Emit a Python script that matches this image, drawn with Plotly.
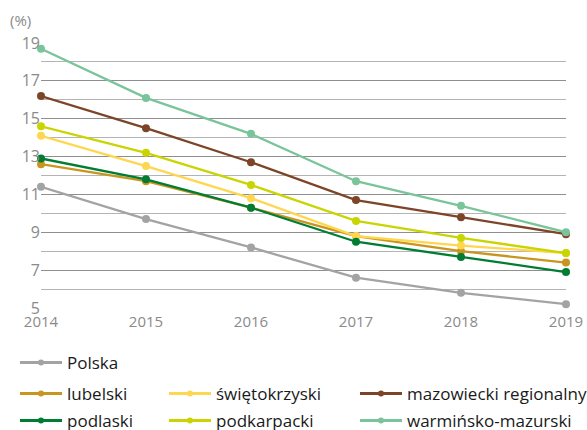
import plotly.graph_objects as go

years = [2014, 2015, 2016, 2017, 2018, 2019]
polska = [11.4, 9.7, 8.2, 6.6, 5.8, 5.2]
lubelski = [12.6, 11.7, 10.3, 8.8, 8.0, 7.4]
swietokrzyski = [14.1, 12.5, 10.8, 8.8, 8.3, 7.9]
mazowiecki = [16.2, 14.5, 12.7, 10.7, 9.8, 8.9]
podlaski = [12.9, 11.8, 10.3, 8.5, 7.7, 6.9]
podkarpacki = [14.6, 13.2, 11.5, 9.6, 8.7, 7.9]
warminsko = [18.7, 16.1, 14.2, 11.7, 10.4, 9.0]

series = [
    ("Polska", polska, "#a3a3a3"),
    ("lubelski", lubelski, "#c8961e"),
    ("świętokrzyski", swietokrzyski, "#ffd64f"),
    ("mazowiecki regionalny", mazowiecki, "#7d4527"),
    ("podlaski", podlaski, "#007d32"),
    ("podkarpacki", podkarpacki, "#c9d500"),
    ("warmińsko-mazurski", warminsko, "#7ac49b"),
]

W, H = 587, 430
L, R, T, B = 41, 21, 43, 122
PW, PH = W - L - R, H - T - B

# legend positions in pixels (x left, y top)
legend_pos = [
    (15, 345),
    (15, 376), (164, 376), (355, 376),
    (15, 403), (164, 403), (355, 403),
]

fig = go.Figure()
legend_layout = {}
draw_order = [0, 1, 2, 5, 4, 3, 6]
for i in draw_order:
    name, vals, col = series[i]
    fig.add_trace(go.Scatter(
        x=years, y=vals, name=name, mode="lines+markers",
        line=dict(color=col, width=2.3),
        marker=dict(color=col, size=8),
        cliponaxis=False, showlegend=False,
    ))
for i, (name, vals, col) in enumerate(series):
    lname = "legend" if i == 0 else f"legend{i+1}"
    # legend-only entry (no data drawn)
    fig.add_trace(go.Scatter(
        x=[None], y=[None], name=name, mode="lines+markers",
        line=dict(color=col, width=3),
        marker=dict(color=col, size=6),
        legend=lname, showlegend=True, hoverinfo="skip",
    ))
    px, py = legend_pos[i]
    legend_layout[lname] = dict(
        x=(px - L) / PW, y=(H - B - py) / PH,
        xanchor="left", yanchor="top",
        bgcolor="rgba(0,0,0,0)",
        font=dict(family="Open Sans, sans-serif", size=17, color="#1a1a1a"),
        itemwidth=42, tracegroupgap=0, maxheight=300,
    )

fig.update_layout(
    width=W, height=H,
    margin=dict(l=L, r=R, t=T, b=B, autoexpand=False),
    plot_bgcolor="white", paper_bgcolor="white",
    showlegend=True,
    **legend_layout,
    xaxis=dict(
        range=[2014, 2019], tickvals=years, ticktext=[str(y) for y in years],
        showgrid=False, zeroline=False, showline=False,
        tickfont=dict(family="Open Sans, sans-serif", size=15, color="#8a8a8a"),
        ticks="", ticklabelstandoff=3,
    ),
    yaxis=dict(
        range=[5, 19], tickvals=[5, 7, 9, 11, 13, 15, 17, 19],
        showgrid=True, gridcolor="#8f8f8f", gridwidth=1,
        zeroline=False, showline=False,
        minor=dict(dtick=1, showgrid=True, gridcolor="#b4b4b4", gridwidth=1),
        tickfont=dict(family="Open Sans, sans-serif", size=16, color="#8a8a8a"),
        ticks="",
    ),
    annotations=[dict(
        text="(%)", xref="paper", yref="paper", x=(8 - L) / PW, y=(H - B - 8) / PH,
        xanchor="left", yanchor="top", showarrow=False,
        font=dict(family="Open Sans, sans-serif", size=15, color="#8a8a8a"),
    )],
)

fig.write_html(
    "out.html",
    config={"displayModeBar": False},
    post_script="document.body.style.margin='0';document.body.style.overflow='hidden';",
)
